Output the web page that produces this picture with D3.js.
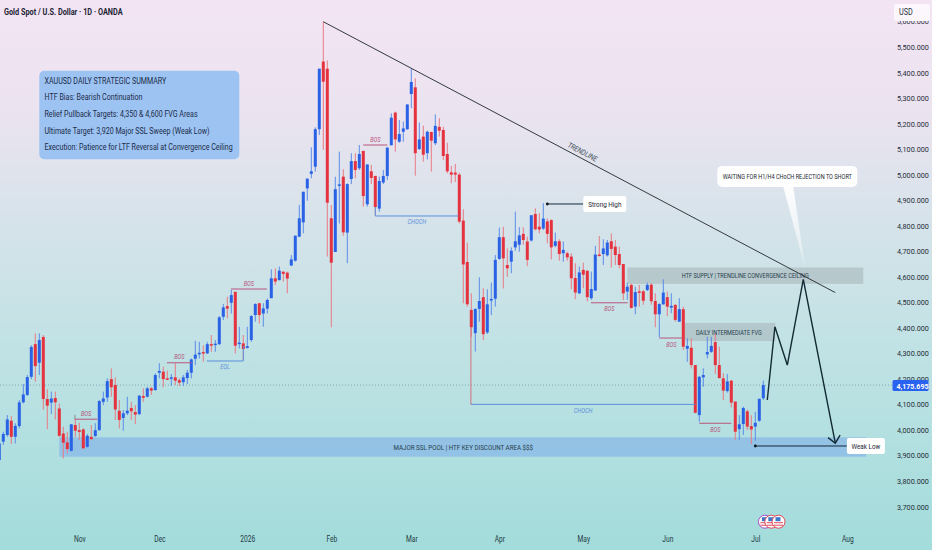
<!DOCTYPE html>
<html>
<head>
<meta charset="utf-8">
<script src="https://cdn.jsdelivr.net/npm/d3@7/dist/d3.min.js"></script>
<style>
  html, body { margin: 0; padding: 0; overflow: hidden; }
  svg { display: block; }
  text { font-family: "Roboto", sans-serif; }
</style>
</head>
<body>
<svg id="chart" width="932" height="550"></svg>
<script>
// open, high, low, close per daily candle
const candles = [
  [3882,3955,3870,3947],[3954,3993,3941,3984],[3980,4058,3973,4041],[4036,4054,3945,3973],[3973,4026,3947,4016],
  [4015,4117,4006,4108],[4108,4180,4104,4139],[4137,4215,4133,4207],[4208,4332,4199,4325],[4336,4378,4189,4250],
  [4263,4378,4215,4352],[4364,4372,4080,4121],[4121,4159,4003,4095],[4107,4150,4062,4123],[4125,4150,4041,4108],
  [4084,4104,3973,3977],[3986,4012,3888,3950],[3951,3993,3908,3925],[3918,4022,3915,4022],[4019,4045,3973,3997],
  [3999,4028,3960,3992],[4002,4006,3925,3928],[3934,3984,3930,3977],[3973,4019,3960,3964],[3976,4026,3973,3999],
  [3999,4117,3997,4113],[4110,4150,4097,4123],[4127,4202,4110,4191],[4199,4241,4130,4167],[4176,4206,4039,4080],
  [4075,4117,4006,4039],[4047,4078,3997,4065],[4065,4130,4058,4075],[4086,4110,4039,4073],[4070,4097,4023,4060],
  [4062,4137,4058,4134],[4133,4163,4110,4126],[4130,4169,4127,4163],[4163,4169,4137,4154],[4156,4221,4154,4215],
  [4224,4261,4202,4231],[4228,4248,4167,4199],[4202,4232,4195,4199],[4203,4219,4172,4206],[4206,4261,4176,4193],
  [4195,4202,4172,4185],[4187,4215,4172,4206],[4203,4235,4180,4224],[4224,4280,4202,4276],[4279,4349,4254,4295],
  [4297,4345,4280,4302],[4305,4332,4267,4300],[4300,4345,4297,4336],[4336,4372,4306,4330],[4334,4352,4306,4338],
  [4336,4446,4332,4441],[4443,4493,4430,4480],[4485,4522,4437,4475],[4498,4548,4456,4528],[4541,4541,4300,4330],
  [4336,4404,4319,4342],[4339,4372,4274,4317],[4321,4404,4319,4328],[4352,4450,4345,4446],[4450,4496,4424,4493],
  [4496,4498,4417,4450],[4456,4496,4404,4476],[4475,4515,4456,4509],
  [4516,4629,4516,4594],[4594,4633,4568,4581],[4587,4640,4585,4624],[4620,4620,4581,4611],[4616,4620,4535,4593],
  [4644,4685,4642,4668],[4663,4761,4659,4761],[4757,4881,4755,4829],[4813,4933,4770,4933],[4946,4986,4898,4984],
  [5003,5107,4986,5013],[5031,5185,5012,5178],[5178,5415,5155,5415],[5443,5599,5097,5364],[5415,5447,4679,4890],
  [4829,4881,4402,4655],[4697,4992,4697,4943],[4956,5090,4809,4962],[4992,5021,4761,4774],[4773,4966,4653,4963],
  [4983,5084,4963,5053],[5053,5084,4986,5018],[5025,5116,5018,5081],[5093,5093,4875,4916],[4884,5040,4875,5040],
  [5013,5038,4963,4987],[4995,4995,4842,4873],[4867,4992,4855,4975],[4969,5018,4963,4995],[4995,5106,4979,5106],
  [5115,5240,5115,5223],[5243,5247,5090,5138],[5129,5214,5125,5159],[5168,5208,5129,5181],[5178,5275,5175,5275],
  [5316,5416,5260,5363],[5342,5377,4996,5084],[5100,5204,5097,5138],[5149,5192,5051,5078],[5084,5172,5060,5168],
  [5167,5168,5012,5133],[5123,5236,5116,5191],[5187,5221,5149,5172],[5175,5188,5057,5073],[5081,5125,5005,5013],
  [5009,5034,4966,5000],[5008,5042,4971,5000],[5000,5008,4809,4816],
  [4820,4864,4496,4648],[4658,4734,4483,4492],[4470,4535,4365,4402],[4379,4476,4307,4474],[4474,4598,4424,4505],
  [4520,4555,4352,4375],[4382,4551,4376,4492],[4509,4577,4450,4513],[4514,4685,4483,4666],[4670,4792,4666,4755],
  [4755,4796,4554,4672],[4646,4711,4600,4633],[4659,4715,4614,4702],[4715,4855,4702,4739],[4725,4794,4698,4762],
  [4768,4794,4725,4744],[4738,4757,4642,4666],[4742,4841,4738,4841],[4846,4868,4781,4786],[4796,4849,4770,4785],
  [4789,4888,4783,4828],[4817,4829,4731,4768],[4822,4825,4668,4715],[4721,4773,4715,4739],[4739,4747,4663,4689],
  [4692,4738,4659,4705],[4692,4698,4663,4676],[4679,4692,4551,4594],[4595,4653,4512,4538],[4535,4640,4533,4617],
  [4627,4655,4555,4608],[4623,4627,4503,4520],[4516,4620,4509,4552],[4546,4721,4546,4687],[4687,4760,4679,4684],
  [4689,4747,4646,4711],[4684,4744,4679,4734],[4739,4770,4636,4709],[4718,4744,4646,4685],[4689,4718,4633,4646],
  [4650,4650,4509,4535],[4542,4577,4509,4561],[4568,4574,4475,4478],[4483,4561,4453,4540],[4543,4568,4483,4542],
  [4543,4548,4490,4506],[4548,4577,4544,4568],[4569,4574,4490,4504],[4505,4535,4402,4453],[4453,4496,4363,4493],
  [4492,4590,4490,4538],[4520,4542,4446,4483],[4479,4535,4457,4486],[4490,4492,4424,4431],[4424,4516,4424,4473],
  [4473,4483,4313,4326],
  [4318,4359,4267,4329],[4322,4359,4241,4254],[4254,4254,4065,4067],[4058,4211,4032,4208],[4206,4241,4169,4215],
  [4296,4365,4280,4305],[4306,4365,4302,4329],[4344,4378,4219,4254],[4254,4326,4202,4203],[4202,4222,4117,4154],
  [4152,4219,4146,4190],[4193,4195,4088,4107],[4111,4111,3960,3993],[4003,4058,3960,4022],[4023,4091,3980,4086],
  [4073,4080,4000,4013],[4015,4058,3945,4002],[4013,4071,3958,4028],[4036,4122,4032,4122],[4124,4193,4117,4175.695]
];

const lastPrice = 4175.695;
const priceTicks = d3.range(3700, 5601, 100);
const monthLabels = ["Nov", "Dec", "2026", "Feb", "Mar", "Apr", "May", "Jun", "Jul", "Aug"];
const monthBars = [20, 40, 62, 83, 103, 125, 146, 167, 189, 212];

const summaryLines = [
  "XAUUSD DAILY STRATEGIC SUMMARY",
  "HTF Bias: Bearish Continuation",
  "Relief Pullback Targets: 4,350 & 4,600 FVG Areas",
  "Ultimate Target: 3,920 Major SSL Sweep (Weak Low)",
  "Execution: Patience for LTF Reversal at Convergence Ceiling"
];

// [label, bar from, bar to, price, label side]
const structureBreaks = [
  ["BOS", 18.9, 24.5, 4042, -1], ["BOS", 41.9, 48.1, 4263, -1], ["BOS", 57.9, 66.9, 4552, -1],
  ["BOS", 91, 97, 5116, -1], ["BOS", 147.9, 157.1, 4498, 1], ["BOS", 165, 171, 4360, 1], ["BOS", 175, 183, 4026, 1],
  ["EQL", 51.9, 61, 4270, 1], ["CHOCH", 94, 114.75, 4838, 1], ["CHOCH", 117.9, 174, 4100, 1]
];

// [bar, price from, price to] short drops tying a structure line to its swing
const structureDrops = [[61, 4330, 4270], [94, 4873, 4838], [117.9, 4402, 4100], [18.9, 4060, 4042]];

// [label, bar from, bar to, price top, price bottom, label bar]
const zones = [
  ["MAJOR SSL POOL | HTF KEY DISCOUNT AREA $$$", 15, 216.7, 3971, 3895, 116],
  ["HTF SUPPLY | TRENDLINE CONVERGENCE CEILING", 157, 216, 4636, 4572, 186.5],
  ["DAILY INTERMEDIATE FVG", 171.4, 194, 4419, 4348, 182.4]
];

const trendline = [[81, 5599], [209, 4538]];
const projection = [[192, 4117], [193.9, 4404], [197, 4254], [201, 4590], [209, 3948]];
const arrowHead = [[207.2, 3970], [209, 3948], [210.2, 3980]];
const flagBars = [191.4, 193, 194.8];

const svg = d3.select("#chart");
const width = +svg.attr("width");
const height = +svg.attr("height");

const x = d3.scaleLinear().domain([0, 191]).range([-0.7, 763.3]);
const y = d3.scaleLinear().domain([5500, 3700]).range([47, 506.5]);

const ink = "#16283a";
const upColor = "#2a62e6";
const downColor = "#e5323f";
const bosColor = "#b8557c";
const chochColor = "#5b8fdc";

// Roboto runs wider than the chart's font, pull each text in by a factor
function squeeze(selection, factor) {
  selection.each(function () {
    d3.select(this)
      .attr("textLength", this.getComputedTextLength() * factor)
      .attr("lengthAdjust", "spacingAndGlyphs");
  });
  return selection;
}

// background wash
const defs = svg.append("defs");
const wash = defs.append("linearGradient").attr("id", "wash")
  .attr("x1", 0).attr("x2", 0).attr("y1", 0).attr("y2", 1);
wash.selectAll("stop")
  .data([[0, "#f3e4f4"], [0.2, "#ebe3f0"], [0.4, "#d6e3ea"], [0.65, "#bfe2e4"], [1, "#a2dcdb"]])
  .join("stop")
  .attr("offset", d => d[0])
  .attr("stop-color", d => d[1]);
const tail = defs.append("linearGradient").attr("id", "calloutTail")
  .attr("x1", 0).attr("x2", 0).attr("y1", 0).attr("y2", 1);
tail.append("stop").attr("offset", 0).attr("stop-color", "#fff").attr("stop-opacity", 0.95);
tail.append("stop").attr("offset", 1).attr("stop-color", "#fff").attr("stop-opacity", 0.25);

svg.append("rect").attr("width", width).attr("height", height).attr("fill", "url(#wash)");

// zones sit under the candles
zones.forEach(([label, from, to, top, bottom], i) => {
  svg.append("rect")
    .attr("x", x(from))
    .attr("y", y(top))
    .attr("width", x(to) - x(from))
    .attr("height", y(bottom) - y(top))
    .attr("fill", i === 0 ? "#8fbfe6" : "#a9b8bb")
    .attr("opacity", i === 0 ? 0.9 : 0.6);
});

// last price line
svg.append("line")
  .attr("x1", 0).attr("x2", 892)
  .attr("y1", y(lastPrice)).attr("y2", y(lastPrice))
  .attr("stroke", "#6f8f9a")
  .attr("stroke-width", 0.7)
  .attr("stroke-dasharray", "1,2");

// candles
const candleGroup = svg.append("g");
candleGroup.selectAll("line")
  .data(candles)
  .join("line")
  .attr("x1", (d, i) => x(i))
  .attr("x2", (d, i) => x(i))
  .attr("y1", d => y(d[1]))
  .attr("y2", d => y(d[2]))
  .attr("stroke", d => d[3] >= d[0] ? "#5c8bea" : "#ea7a84")
  .attr("stroke-width", 1);
candleGroup.selectAll("rect")
  .data(candles)
  .join("rect")
  .attr("x", (d, i) => x(i) - 1.5)
  .attr("y", d => y(Math.max(d[0], d[3])))
  .attr("width", 3)
  .attr("height", d => Math.max(1.5, Math.abs(y(d[0]) - y(d[3]))))
  .attr("fill", d => d[3] >= d[0] ? upColor : downColor);

// structure lines with their small italic labels
structureBreaks.forEach(([label, from, to, price, side]) => {
  const color = label === "BOS" ? bosColor : chochColor;
  svg.append("line")
    .attr("x1", x(from)).attr("x2", x(to))
    .attr("y1", y(price)).attr("y2", y(price))
    .attr("stroke", color)
    .attr("stroke-width", 1);
  svg.append("text")
    .attr("x", (x(from) + x(to)) / 2)
    .attr("y", y(price) + (side < 0 ? -3.5 : 8.5))
    .attr("text-anchor", "middle")
    .attr("font-size", 7)
    .attr("font-style", "italic")
    .attr("fill", color)
    .text(label)
    .call(squeeze, 0.8);
});

svg.selectAll(".drop")
  .data(structureDrops)
  .join("line")
  .attr("class", "drop")
  .attr("x1", d => x(d[0])).attr("x2", d => x(d[0]))
  .attr("y1", d => y(d[1])).attr("y2", d => y(d[2]))
  .attr("stroke", (d, i) => i === 2 ? "#d0707c" : i === 3 ? "#8a8f9a" : chochColor)
  .attr("stroke-width", 1);

// zone labels
const zoneLabelSqueeze = [0.886, 0.795, 0.795];
zones.forEach(([label, from, to, top, bottom, labelBar], i) => {
  svg.append("text")
    .attr("x", x(labelBar))
    .attr("y", (y(top) + y(bottom)) / 2 + 2.5)
    .attr("text-anchor", "middle")
    .attr("font-size", 7)
    .attr("fill", "#27404c")
    .text(label)
    .call(squeeze, zoneLabelSqueeze[i]);
});

// trendline
const priceLine = d3.line().x(d => x(d[0])).y(d => y(d[1]));
svg.append("path")
  .attr("d", priceLine(trendline))
  .attr("fill", "none")
  .attr("stroke", "#33393f")
  .attr("stroke-width", 1);

const trendAngle = Math.atan2(y(trendline[1][1]) - y(trendline[0][1]), x(trendline[1][0]) - x(trendline[0][0])) * 180 / Math.PI;
svg.append("text")
  .attr("transform", `translate(${x(145.5)},${y(5080)}) rotate(${trendAngle})`)
  .attr("text-anchor", "middle")
  .attr("font-size", 7.5)
  .attr("font-style", "italic")
  .attr("fill", "#3d4a52")
  .text("TRENDLINE")
  .call(squeeze, 0.85);

// projected path
[projection, arrowHead].forEach(points => {
  svg.append("path")
    .attr("d", priceLine(points))
    .attr("fill", "none")
    .attr("stroke", "#122a33")
    .attr("stroke-width", 1.4);
});

// summary box
const summary = svg.append("g");
summary.append("rect")
  .attr("x", 39.3).attr("y", 70.7)
  .attr("width", 200).attr("height", 88.6)
  .attr("rx", 5)
  .attr("fill", "#9dc3f3");
summary.selectAll("text")
  .data(summaryLines)
  .join("text")
  .attr("x", 44.5)
  .attr("y", (d, i) => 83.5 + i * 16.7)
  .attr("font-size", 8.2)
  .attr("fill", "#1b2c48")
  .text(d => d)
  .call(squeeze, 0.867);

// title
svg.append("text")
  .attr("x", 4).attr("y", 15)
  .attr("font-size", 9.5)
  .attr("font-weight", 700)
  .attr("fill", "#1c2433")
  .text("Gold Spot / U.S. Dollar · 1D · OANDA")
  .call(squeeze, 0.77);

// price axis
const priceAxis = d3.axisRight(y)
  .tickValues(priceTicks)
  .tickSize(0)
  .tickPadding(0)
  .tickFormat(d3.format(",.3f"));
svg.append("g")
  .attr("transform", "translate(897,0)")
  .call(priceAxis)
  .call(g => g.select(".domain").remove())
  .call(g => g.selectAll("text")
    .attr("font-family", "Roboto, sans-serif")
    .attr("font-size", 7.8)
    .attr("fill", "#1f2d3a")
    .call(squeeze, 0.93));

// time axis
const timeAxis = d3.axisBottom(x)
  .tickValues(monthBars)
  .tickSize(0)
  .tickPadding(0)
  .tickFormat((d, i) => monthLabels[i]);
svg.append("g")
  .attr("transform", "translate(0,535.5)")
  .call(timeAxis)
  .call(g => g.select(".domain").remove())
  .call(g => g.selectAll("text")
    .attr("font-family", "Roboto, sans-serif")
    .attr("font-size", 8.5)
    .attr("fill", "#1f3a44")
    .call(squeeze, 0.78));

// USD box and price tag go over the axis
svg.append("rect")
  .attr("x", 894).attr("y", 4)
  .attr("width", 36).attr("height", 17)
  .attr("rx", 2)
  .attr("fill", "#fbf7fc");
svg.append("text")
  .attr("x", 899).attr("y", 15)
  .attr("font-size", 8.5)
  .attr("fill", "#2a3240")
  .text("USD")
  .call(squeeze, 0.85);

svg.append("rect")
  .attr("x", 892.5).attr("y", y(lastPrice) - 5)
  .attr("width", 36).attr("height", 11)
  .attr("rx", 1.5)
  .attr("fill", "#2a62f0");
svg.append("text")
  .attr("x", 896.5).attr("y", y(lastPrice) + 3.5)
  .attr("font-size", 7.8)
  .attr("font-weight", 700)
  .attr("fill", "#fff")
  .text(d3.format(",.3f")(lastPrice))
  .call(squeeze, 0.9);

// dot, leader and white tag
function pointerTag(bar, price, tagBar, label, tagWidth) {
  svg.append("line")
    .attr("x1", x(bar)).attr("x2", x(tagBar))
    .attr("y1", y(price)).attr("y2", y(price))
    .attr("stroke", ink)
    .attr("stroke-width", 1);
  svg.append("circle")
    .attr("cx", x(bar)).attr("cy", y(price))
    .attr("r", 1.4)
    .attr("fill", "#0d1620");
  svg.append("rect")
    .attr("x", x(tagBar)).attr("y", y(price) - 8)
    .attr("width", tagWidth).attr("height", 16)
    .attr("rx", 2)
    .attr("fill", "#fff");
  svg.append("text")
    .attr("x", x(tagBar) + tagWidth / 2).attr("y", y(price) + 2.8)
    .attr("text-anchor", "middle")
    .attr("font-size", 8)
    .attr("fill", "#1d2833")
    .text(label)
    .call(squeeze, 0.79);
}
pointerTag(137, 4885, 146, "Strong High", 43);
pointerTag(189, 3937, 211.9, "Weak Low", 38);

// callout above the ceiling
const calloutX = x(197);
const calloutY = y(4952);
svg.append("path")
  .attr("d", `M${calloutX - 4},${calloutY} L${calloutX + 6},${calloutY} L${x(201.5)},${y(4630)} Z`)
  .attr("fill", "url(#calloutTail)");
svg.append("rect")
  .attr("x", calloutX - 70).attr("y", calloutY - 21)
  .attr("width", 140).attr("height", 21)
  .attr("rx", 5)
  .attr("fill", "#fff")
  .attr("opacity", 0.95);
svg.append("text")
  .attr("x", calloutX).attr("y", calloutY - 8)
  .attr("text-anchor", "middle")
  .attr("font-size", 6.5)
  .attr("fill", "#1d2833")
  .text("WAITING FOR H1/H4 CHoCH REJECTION TO SHORT")
  .call(squeeze, 0.854);

// little US flag event markers
flagBars.forEach(bar => {
  const cx = x(bar);
  const cy = 521.7;
  svg.append("circle").attr("cx", cx).attr("cy", cy).attr("r", 6.5)
    .attr("fill", "#fff").attr("stroke", bar === flagBars[0] ? "#a64bc4" : "#e0485a").attr("stroke-width", 1);
  [1, 3.5].forEach(dy => {
    svg.append("line")
      .attr("x1", cx - 4.5).attr("x2", cx + 4.5)
      .attr("y1", cy + dy).attr("y2", cy + dy)
      .attr("stroke", "#e0485a").attr("stroke-width", 1);
  });
  svg.append("rect")
    .attr("x", cx - 3).attr("y", cy - 4.5)
    .attr("width", 5).attr("height", 4)
    .attr("fill", "#3c78c8");
});
</script>
</body>
</html>
